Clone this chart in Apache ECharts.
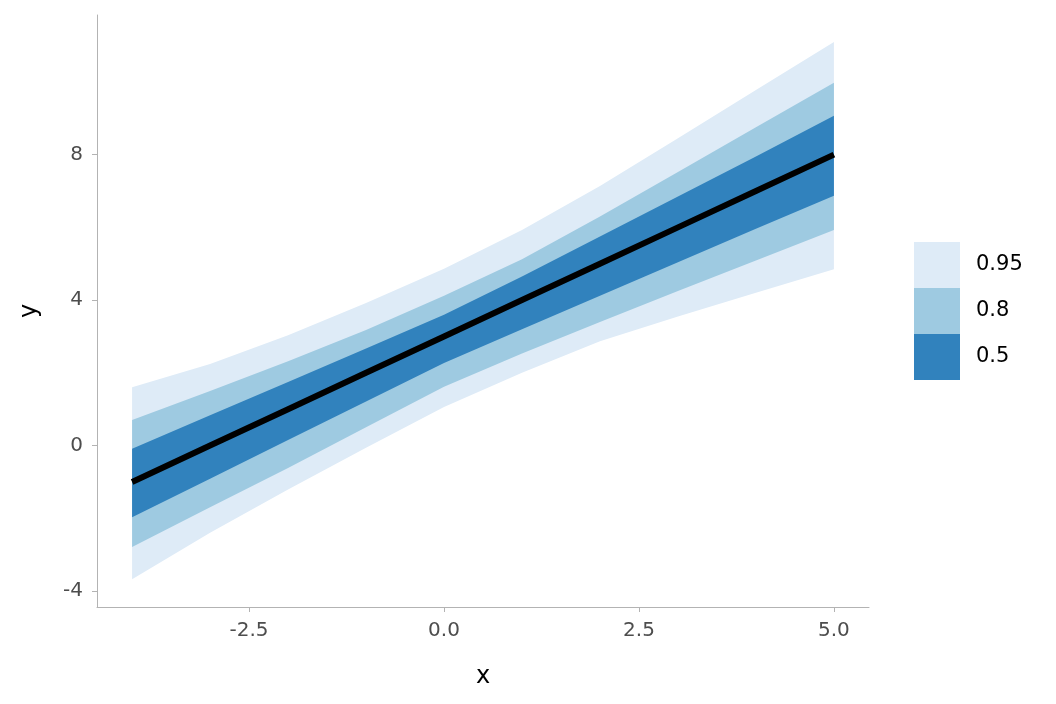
<!DOCTYPE html>
<html>
<head>
<meta charset="utf-8">
<script src="https://cdn.jsdelivr.net/npm/echarts@6/dist/echarts.min.js"></script>
<style>
  html, body { margin: 0; padding: 0; background: #fff; }
  #chart { width: 1056px; height: 704px; }
</style>
</head>
<body>
<div id="chart"></div>
<script>
// x positions and the fitted line
var xs = [-4, -3, -2, -1, 0, 1, 2, 3, 4, 5];
var fit = [-1, 0, 1, 2, 3, 4, 5, 6, 7, 8];

// interval bounds
var lo95 = [-3.68, -2.40, -1.21, -0.06, 1.06, 2.00, 2.87, 3.55, 4.20, 4.85];
var hi95 = [1.60, 2.24, 3.03, 3.92, 4.86, 5.93, 7.14, 8.45, 9.78, 11.10];
var lo80 = [-2.79, -1.70, -0.62, 0.50, 1.62, 2.53, 3.40, 4.25, 5.09, 5.93];
var hi80 = [0.70, 1.50, 2.32, 3.18, 4.12, 5.12, 6.30, 7.52, 8.75, 9.98];
var lo50 = [-1.97, -0.91, 0.15, 1.21, 2.27, 3.20, 4.12, 5.04, 5.96, 6.87];
var hi50 = [-0.09, 0.83, 1.75, 2.67, 3.60, 4.65, 5.75, 6.85, 7.95, 9.07];

var levels = ['0.95', '0.8', '0.5'];
var xTicks = [-2.5, 0, 2.5, 5];
var yTicks = [-4, 0, 4, 8];

var colors = { '0.95': '#deebf7', '0.8': '#9ecae1', '0.5': '#3182bd' };
var bands = { '0.95': [lo95, hi95], '0.8': [lo80, hi80], '0.5': [lo50, hi50] };

// one polygon per band: along the upper bound, back along the lower one
function renderBand(params, api) {
  if (params.dataIndexInside !== 0) return null;
  var n = params.dataInsideLength, top = [], bot = [];
  for (var j = 0; j < n; j++) {
    top.push(api.coord([api.value(0, j), api.value(2, j)]));
    bot.push(api.coord([api.value(0, j), api.value(1, j)]));
  }
  return {
    type: 'polygon',
    shape: { points: top.concat(bot.reverse()) },
    style: { fill: api.visual('color') }
  };
}

var series = levels.map(function (lv) {
  var lo = bands[lv][0], hi = bands[lv][1];
  return {
    name: lv, type: 'custom', renderItem: renderBand, silent: true,
    itemStyle: { color: colors[lv] },
    encode: { x: 0, y: [1, 2] },
    data: xs.map(function (x, i) { return [x, lo[i], hi[i]]; })
  };
});
series.push({
  name: 'fit', type: 'line', symbol: 'none', z: 5,
  data: xs.map(function (x, i) { return [x, fit[i]]; }),
  lineStyle: { color: '#000', width: 6 }
});

var axisGrey = '#b3b3b3';
var chart = echarts.init(document.getElementById('chart'));
chart.setOption({
  animation: false,
  textStyle: { fontFamily: 'DejaVu Sans' },
  grid: { left: 97, right: 187, top: 15, bottom: 97 },
  legend: {
    orient: 'vertical', left: 914, top: 242, padding: 0,
    itemWidth: 46, itemHeight: 46, itemGap: 0, icon: 'rect',
    data: levels.map(function (lv) {
      return { name: lv, itemStyle: { color: colors[lv], borderWidth: 0 } };
    }),
    textStyle: { fontSize: 21, color: '#000', padding: [8, 0, 0, 11] }
  },
  xAxis: {
    type: 'value', min: -4.45, max: 5.45,
    name: 'x', nameLocation: 'middle', nameGap: 58,
    nameTextStyle: { fontSize: 24, color: '#000' },
    splitLine: { show: false },
    axisLine: { show: true, onZero: false, lineStyle: { color: axisGrey } },
    axisTick: { show: true, length: 5, customValues: xTicks, lineStyle: { color: axisGrey } },
    axisLabel: {
      customValues: xTicks, fontSize: 20, color: '#4d4d4d', margin: 14,
      formatter: function (v) { return v.toFixed(1); }
    }
  },
  yAxis: {
    type: 'value', min: -4.44, max: 11.84,
    name: 'y', nameLocation: 'middle', nameGap: 55, nameRotate: 90,
    nameTextStyle: { fontSize: 24, color: '#000' },
    splitLine: { show: false },
    axisLine: { show: true, onZero: false, lineStyle: { color: axisGrey } },
    axisTick: { show: true, length: 5, customValues: yTicks, lineStyle: { color: axisGrey } },
    axisLabel: { customValues: yTicks, fontSize: 20, color: '#4d4d4d', margin: 14, padding: [4, 0, 0, 0] }
  },
  series: series
});
</script>
</body>
</html>
